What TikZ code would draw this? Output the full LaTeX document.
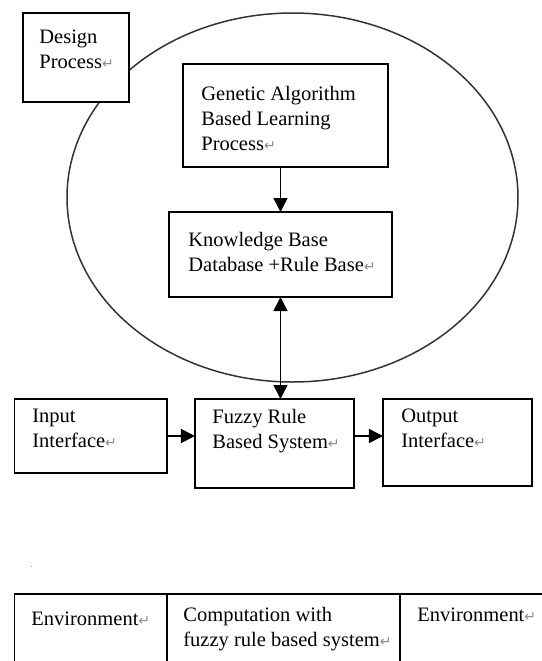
\documentclass[tikz,border=0pt]{standalone}
\usepackage{fontspec}
\setmainfont{Liberation Serif}
\newfontfamily\symfont{DejaVu Sans}
\usepackage{tikz}
\usetikzlibrary{shapes.geometric,arrows.meta,positioning}

% paragraph mark as printed in the figure
\newcommand{\pmark}{{\symfont\fontsize{7}{7}\selectfont\textcolor{black!45}{↵}}}

\begin{document}
\begin{tikzpicture}[
    x=0.5pt, y=-0.5pt,
    box/.style={rectangle, draw, line width=0.75pt, fill=white, anchor=north west, inner sep=0pt, outer sep=0pt},
    txt/.style={anchor=north west, inner sep=0pt, align=left, font=\fontsize{10.25}{12.5}\selectfont},
    cell/.style={box, minimum height=60pt},
    line/.style={draw, -{Triangle[width=7pt,length=7pt]}, line width=0.75pt},
    twoway/.style={draw, {Triangle[width=7pt,length=7pt]}-{Triangle[width=7pt,length=7pt]}, line width=0.75pt}
]
    \useasboundingbox (0,0) rectangle (542,661);
    \clip (0,0) rectangle (542,661);

    % Learning loop
    \node [ellipse, draw=black!80, line width=0.75pt, minimum width=225.5pt, minimum height=184.5pt, inner sep=0pt] (loop) at (292.5,197.5) {};

    % Design process
    \node [box, minimum width=53pt, minimum height=44.5pt] (design) at (23,13) {};
    \node [txt] (designtxt) at ([shift={(16,17)}]design.north west) {Design\\Process\pmark};

    % Genetic learning and knowledge base
    \node [box, minimum width=102.5pt, minimum height=51.5pt] (genetic) at (183,64) {};
    \node [txt] (genetictxt) at ([shift={(18,22)}]genetic.north west) {Genetic Algorithm\\Based Learning\\Process\pmark};

    \node [box, minimum width=111.5pt, minimum height=42.5pt] (kb) at (169,212) {};
    \node [txt] (kbtxt) at ([shift={(19,20)}]kb.north west) {Knowledge Base\\Database +Rule Base\pmark};

    % Fuzzy system row
    \node [box, minimum width=76.25pt, minimum height=37pt] (input) at (14.5,399) {};
    \node [txt] (inputtxt) at ([shift={(17.5,10)}]input.north west) {Input\\Interface\pmark};

    \node [box, minimum width=79.5pt, minimum height=44.5pt] (fuzzy) at (195,399) {};
    \node [txt] (fuzzytxt) at ([shift={(17,10)}]fuzzy.north west) {Fuzzy Rule\\Based System\pmark};

    \node [box, minimum width=74.5pt, minimum height=43.5pt] (output) at (383,399) {};
    \node [txt] (outputtxt) at ([shift={(18,10)}]output.north west) {Output\\Interface\pmark};

    % Flows
    \path [line] (kb.north |- genetic.south) -- (kb.north);
    \path [twoway] (kb.south) -- (kb.south |- fuzzy.north);
    \path [line] (input.east) -- (input.east -| fuzzy.west);
    \path [line] (input.east -| fuzzy.east) -- (input.east -| output.west);

    % Table
    \node [txt, font=\tiny, text=black!40] (dot) at (30,566) {.};

    \node [cell, minimum width=76.25pt] (env1) at (14.5,594) {};
    \node [cell, minimum width=116.5pt] (comp) at (env1.north east) {};
    \node [cell, minimum width=100pt] (env2) at (comp.north east) {};

    \node [txt] (env1txt) at ([shift={(16.5,18)}]env1.north west) {Environment\pmark};
    \node [txt] (comptxt) at ([shift={(16,13)}]comp.north west) {Computation with\\fuzzy rule based system\pmark};
    \node [txt] (env2txt) at ([shift={(17,14)}]env2.north west) {Environment\pmark};

\end{tikzpicture}
\end{document}
